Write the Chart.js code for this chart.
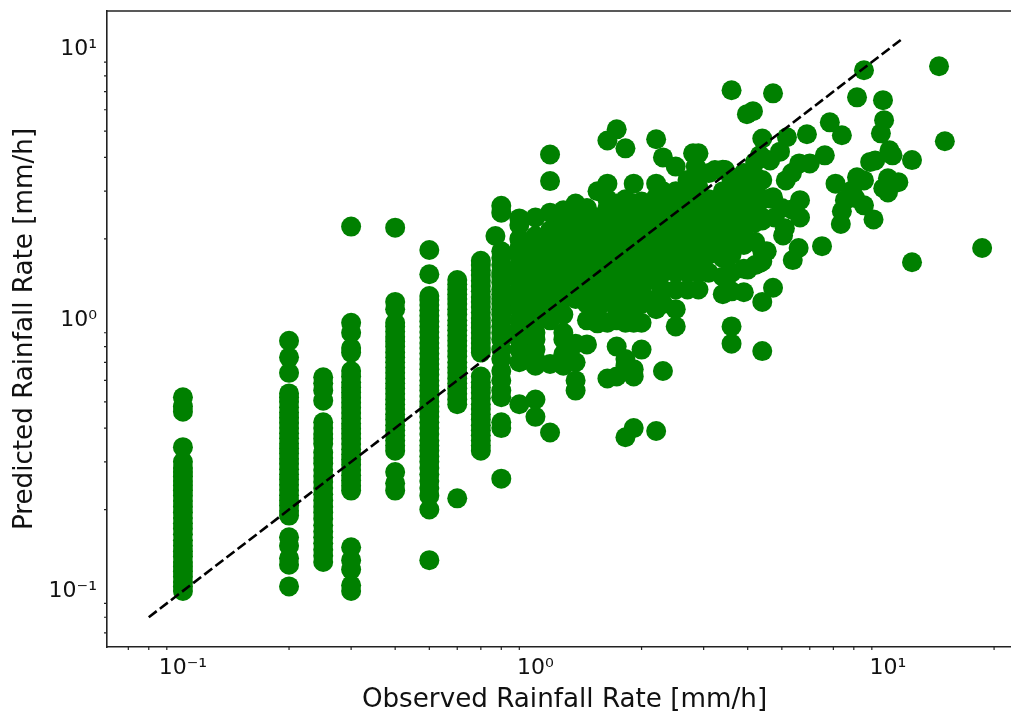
<!DOCTYPE html>
<html>
<head>
<meta charset="utf-8">
<style>html,body{margin:0;padding:0;background:#fff;overflow:hidden;width:1011px;height:713px}canvas{display:block}</style>
<script src="https://cdn.jsdelivr.net/npm/chart.js@4"></script>
</head>
<body>
<canvas id="c" width="1022" height="713"></canvas>
<script>
const xTitle = "Observed Rainfall Rate [mm/h]";
const yTitle = "Predicted Rainfall Rate [mm/h]";
const majorTicks = [0.1, 1, 10];
const majorLabels = ["10⁻¹", "10⁰", "10¹"];
const xMinorTicks = [0.07,0.08,0.09,0.2,0.3,0.4,0.5,0.6,0.7,0.8,0.9,2,3,4,5,6,7,8,9,20];
const yMinorTicks = [0.07,0.08,0.09,0.2,0.3,0.4,0.5,0.6,0.7,0.8,0.9,2,3,4,5,6,7,8,9];
const referenceLine = [0.08, 10.9];

const p010 = [0.1,0.104,0.108,0.113,0.118,0.123,0.128,0.134,0.14,0.147,0.154,0.162,0.17,0.178,0.186,0.195,0.205,0.215,0.225,0.235,0.245,0.255,0.265,0.275,0.285,0.3,0.34,0.46,0.48,0.52];
const p020 = [0.104,0.125,0.132,0.147,0.158,0.19,0.198,0.207,0.216,0.226,0.236,0.247,0.258,0.27,0.282,0.295,0.308,0.322,0.336,0.351,0.367,0.383,0.4,0.418,0.437,0.457,0.477,0.5,0.52,0.537,0.64,0.73,0.84];
const p025 = [0.128,0.135,0.142,0.15,0.158,0.166,0.175,0.185,0.195,0.205,0.216,0.228,0.24,0.253,0.266,0.28,0.296,0.31,0.325,0.35,0.365,0.38,0.4,0.42,0.505,0.55,0.585,0.616];
const p030 = [0.1,0.105,0.12,0.13,0.145,0.235,0.245,0.256,0.268,0.28,0.293,0.306,0.32,0.334,0.349,0.365,0.381,0.398,0.416,0.435,0.455,0.475,0.496,0.518,0.541,0.565,0.59,0.62,0.65,0.76,0.79,0.9,0.98,2.22];
const p040 = [0.235,0.25,0.275,0.33,0.345,0.36,0.376,0.393,0.41,0.43,0.45,0.47,0.49,0.51,0.535,0.56,0.585,0.61,0.64,0.67,0.7,0.73,0.76,0.8,0.835,0.87,0.91,0.95,0.98,1.1,1.17,2.2];
const p050 = [0.13,0.2,0.225,0.24,0.255,0.27,0.285,0.3,0.315,0.33,0.345,0.36,0.38,0.4,0.42,0.44,0.46,0.48,0.5,0.525,0.55,0.575,0.6,0.63,0.66,0.69,0.72,0.755,0.79,0.825,0.865,0.905,0.95,0.99,1.04,1.09,1.14,1.19,1.23,1.48,1.82];
const p060 = [0.22,0.49,0.51,0.535,0.56,0.585,0.61,0.64,0.67,0.7,0.735,0.77,0.805,0.84,0.88,0.92,0.96,1.0,1.05,1.1,1.15,1.2,1.25,1.3,1.36,1.41];
const p070 = [0.33,0.345,0.36,0.376,0.393,0.41,0.43,0.45,0.47,0.49,0.515,0.54,0.565,0.59,0.62,0.76,0.79,0.825,0.86,0.9,0.94,0.98,1.02,1.07,1.12,1.17,1.22,1.28,1.34,1.4,1.47,1.53,1.6,1.66];
const p080 = [0.26,0.4,0.42,0.52,0.55,0.6,0.65,0.72,0.78,0.85,0.9,0.95,1.0,1.05,1.1,1.15,1.2,1.25,1.3,1.38,1.45,1.5,1.6,1.7,1.8,2.5,2.65];
const p090 = [0.49,0.7,0.78,0.85,0.92,1.0,1.1,1.2,1.3,1.4,1.5,1.6,1.75,1.85,2.0,2.25,2.38];
const p100 = [0.44,0.51,0.68,0.72,0.78,0.85,0.9,1.0,1.05,1.15,1.25,1.35,1.45,1.6,1.7,1.85,1.95,2.05,2.4];
const p110 = [0.385,0.69,1.0,1.1,1.2,1.3,1.4,1.5,1.6,1.7,1.85,2.0,2.15,2.5,3.27,4.1];
const p120 = [0.68,0.75,0.85,0.9,1.05,1.2,1.3,1.45,1.6,1.75,1.9,2.1,2.3,2.55];
const p130 = [0.55,0.6,0.7,0.82,1.2,1.3,1.4,1.5,1.6,1.7,1.8,1.9,2.0,2.15,2.3,2.45,2.7];
const p140 = [0.815,1.0,1.15,1.3,1.4,1.5,1.6,1.7,1.8,1.9,2.05,2.2,2.4,2.6];
const p150 = [0.975,1.1,1.2,1.3,1.4,1.5,1.6,1.75,1.9,2.05,2.2,2.4,3.0];
const p160 = [0.61,0.98,1.2,1.3,1.4,1.5,1.6,1.8,2.0,2.2,2.4,2.6,2.8,3.2,4.62];
const p170 = [0.62,0.8,1.0,1.1,1.25,1.35,1.5,1.65,1.8,2.0,2.15,2.35,2.55,2.7,5.08];
const p180 = [0.37,0.68,0.72,0.98,1.05,1.2,1.4,1.55,1.7,1.85,2.0,2.2,2.4,2.6,2.8,4.32];
const p190 = [0.4,0.62,0.66,0.98,1.1,1.2,1.35,1.5,1.65,1.8,1.95,2.1,2.3,2.5,2.7,3.2];
const p200 = [0.78,0.98,1.15,1.3,1.45,1.6,1.75,1.9,2.1,2.3,2.5,2.75];
const p220 = [0.39,1.1,1.2,1.4,1.55,1.7,1.85,2.0,2.2,2.4,2.6,2.85,3.2,4.67];
const p230 = [0.65,1.15,1.3,1.5,1.65,1.8,2.0,2.2,2.45,2.7,3.0,4.0];
const p250 = [0.95,1.1,1.3,1.5,1.65,1.8,2.0,2.2,2.4,2.7,3.0,3.7];
const p270 = [1.3,1.5,1.7,1.9,2.1,2.3,2.6,2.9,3.3];
const p290 = [1.3,1.5,1.7,1.9,2.1,2.3,2.5,2.8,3.1,3.4,4.14];
const p310 = [1.5,1.75,2.0,2.2,2.5,2.8,3.5];
const p340 = [1.25,1.45,1.7,1.9,2.15,2.4,2.7,3.0,3.6];
const p360 = [0.82,0.95,1.28,1.5,1.75,2.0,2.3,2.6,2.9,3.3,7.08];
const p390 = [1.27,1.55,1.9,2.1,2.4,2.7,3.1,3.5];
const p420 = [1.6,1.95,2.3,2.7,3.0,3.4,3.85];
const p440 = [0.77,1.17,1.65,1.8,2.4,2.8,3.3,4.0,4.7];

const columnValues = [0.1,0.2,0.25,0.3,0.4,0.5,0.6,0.7,0.8,0.9,1.0,1.1,1.2,1.3,1.4,1.5,1.6,1.7,1.8,1.9,2.0,2.2,2.3,2.5,2.7,2.9,3.1,3.4,3.6,3.9,4.2,4.4];
const columnPredicted = [p010,p020,p025,p030,p040,p050,p060,p070,p080,p090,p100,p110,p120,p130,p140,p150,p160,p170,p180,p190,p200,p220,p230,p250,p270,p290,p310,p340,p360,p390,p420,p440];

const looseObserved = [0.77,13.96,8.55,4.72,8.17,9.68,3.98,4.14,9.75,6.84,9.55,7.4,5.17,5.89,14.5,10.1,10.3,6.62,11.7,8.9,9.2,5.6,6.0,7.1,8.17,8.55,10,10.7,9.7,10,7.9,7.55,8.07,5.63,5.34,5.63,7.4,8.55,7.35,9.1,5.04,5.1,6.5,5.58,5.37,11.7,18.5,4.53,4.33,4.0,4.72,4.63,5.13,5.34,4.94,4.33,3.88,3.63,4.72,4.33,4.06,4.06,4.4,4.77,3.8,4.63,3.93,3.67,5.0,2.8,3.23,3.45,2.85];
const loosePredicted = [2.05,8.69,8.4,6.9,6.67,6.51,5.78,5.93,5.49,5.39,4.91,4.83,4.75,4.87,4.59,4.25,4.07,4.07,3.91,3.85,3.9,3.8,3.8,3.2,3.38,3.29,3.35,3.24,3.08,2.97,3.02,2.78,2.83,2.78,2.57,2.4,2.53,2.66,2.27,2.36,2.06,2.19,1.88,1.85,1.67,1.64,1.85,1.8,1.63,1.54,1.32,2.82,3.29,3.5,4.2,4.07,1.94,1.86,2.85,2.85,3.1,2.34,2.34,2.4,1.98,3.9,3.45,2.9,2.6,4.14,3.59,3.59,3.7];

const scatterPoints = [];
columnValues.forEach((x, i) => columnPredicted[i].forEach(y => scatterPoints.push({x, y})));
looseObserved.forEach((x, i) => scatterPoints.push({x, y: loosePredicted[i]}));

const fontFamily = "'DejaVu Sans'";
const inkColor = "#222222";

const tickMarks = {
  id: "tickMarks",
  afterDraw(chart) {
    const {ctx, chartArea: a, scales: {x, y}} = chart;
    ctx.save();
    ctx.strokeStyle = inkColor;
    ctx.lineWidth = 1.2;
    ctx.beginPath();
    xMinorTicks.forEach(v => { const p = x.getPixelForValue(v); ctx.moveTo(p, a.bottom); ctx.lineTo(p, a.bottom + 3); });
    yMinorTicks.forEach(v => { const p = y.getPixelForValue(v); ctx.moveTo(a.left, p); ctx.lineTo(a.left - 3, p); });
    ctx.stroke();
    ctx.lineWidth = 1.6;
    ctx.beginPath();
    ctx.moveTo(a.left, a.top);
    ctx.lineTo(a.right, a.top);
    ctx.stroke();
    ctx.restore();
  }
};

function majorOnly(scale) {
  scale.ticks = majorTicks.map(value => ({value, major: true}));
}
function labelFor(v) {
  const i = majorTicks.indexOf(v);
  return i >= 0 ? majorLabels[i] : "";
}
function noMargins(s) {
  s.paddingLeft = 0; s.paddingRight = 0; s.paddingTop = 0; s.paddingBottom = 0;
}

new Chart(document.getElementById("c"), {
  type: "scatter",
  data: {
    datasets: [
      {
        type: "line",
        data: referenceLine.map(v => ({x: v, y: v})),
        borderColor: "#000000",
        borderWidth: 2.6,
        borderDash: [10, 4],
        pointRadius: 0,
        fill: false,
        order: 0
      },
      {
        data: scatterPoints,
        backgroundColor: "#008000",
        borderWidth: 0,
        pointRadius: 10,
        order: 1
      }
    ]
  },
  options: {
    responsive: false,
    animation: false,
    layout: {autoPadding: false, padding: {top: 11, right: 0, left: 0, bottom: 0}},
    plugins: {legend: {display: false}, tooltip: {enabled: false}},
    scales: {
      x: {
        type: "logarithmic",
        min: 0.0609,
        max: 24,
        afterBuildTicks: majorOnly,
        afterFit(s) { s.height = 66; noMargins(s); },
        grid: {display: false, drawTicks: true, drawOnChartArea: false, tickLength: 5, tickColor: inkColor, tickWidth: 1.4},
        border: {display: true, color: inkColor, width: 1.6},
        ticks: {callback: labelFor, color: "#111111", font: {family: fontFamily, size: 22}, maxRotation: 0, autoSkip: false, padding: 3},
        title: {display: true, text: xTitle, color: "#111111", font: {family: fontFamily, size: 26.2}, padding: {top: 0, bottom: -3}}
      },
      y: {
        type: "logarithmic",
        min: 0.0621,
        max: 13.9,
        afterBuildTicks: majorOnly,
        afterFit(s) { s.width = 107; noMargins(s); },
        grid: {display: false, drawTicks: true, drawOnChartArea: false, tickLength: 5, tickColor: inkColor, tickWidth: 1.4},
        border: {display: true, color: inkColor, width: 1.6},
        ticks: {callback: labelFor, color: "#111111", font: {family: fontFamily, size: 22}, autoSkip: false, padding: 5, textOffset: 1},
        title: {display: true, text: yTitle, color: "#111111", font: {family: fontFamily, size: 26.2}, padding: {top: 9, bottom: 0}}
      }
    }
  },
  plugins: [tickMarks]
});
</script>
</body>
</html>
